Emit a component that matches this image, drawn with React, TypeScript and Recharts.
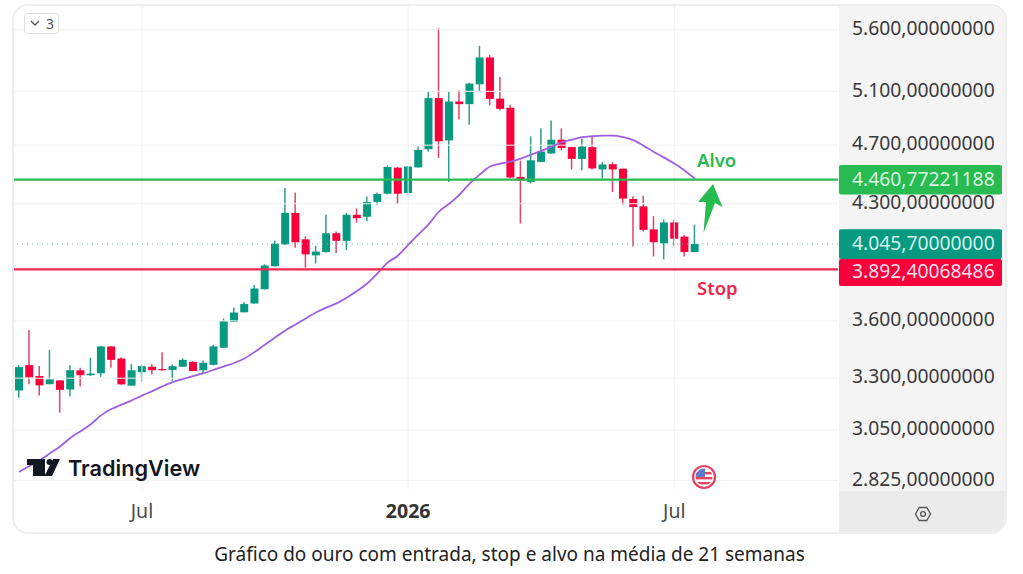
import React from 'react';
import { ComposedChart, Bar, Line, XAxis, YAxis, ReferenceLine, Cell } from 'recharts';

const weeks = [
  '2025-04-14', '2025-04-21', '2025-04-28', '2025-05-05', '2025-05-12', '2025-05-19', '2025-05-26', '2025-06-02',
  '2025-06-09', '2025-06-16', '2025-06-23', '2025-06-30', '2025-07-07', '2025-07-14', '2025-07-21', '2025-07-28',
  '2025-08-04', '2025-08-11', '2025-08-18', '2025-08-25', '2025-09-01', '2025-09-08', '2025-09-15', '2025-09-22',
  '2025-09-29', '2025-10-06', '2025-10-13', '2025-10-20', '2025-10-27', '2025-11-03', '2025-11-10', '2025-11-17',
  '2025-11-24', '2025-12-01', '2025-12-08', '2025-12-15', '2025-12-22', '2025-12-29', '2026-01-05', '2026-01-12',
  '2026-01-19', '2026-01-26', '2026-02-02', '2026-02-09', '2026-02-16', '2026-02-23', '2026-03-02', '2026-03-09',
  '2026-03-16', '2026-03-23', '2026-03-30', '2026-04-06', '2026-04-13', '2026-04-20', '2026-04-27', '2026-05-04',
  '2026-05-11', '2026-05-18', '2026-05-25', '2026-06-01', '2026-06-08', '2026-06-15', '2026-06-22', '2026-06-29',
  '2026-07-06', '2026-07-13', '2026-07-20', '2026-07-27', '2026-08-03', '2026-08-10', '2026-08-17', '2026-08-24',
  '2026-08-31', '2026-09-07', '2026-09-14', '2026-09-21', '2026-09-28', '2026-10-05', '2026-10-12', '2026-10-19',
];

const opens = [
  3239, 3366, 3311, 3270, 3289, 3244, 3340, 3315, 3325, 3463,
  3400, 3263, 3330, 3358, 3346, 3341, 3358, 3383, 3340, 3368,
  3456, 3595, 3647, 3696, 3777, 3911, 4043, 4241, 4074, 3976,
  3996, 4112, 4065, 4229, 4216, 4312, 4366, 4542, 4371, 4544,
  4671, 5048, 4734, 5022, 5002, 5155, 5369, 5044, 4975, 4479,
  4445, 4582, 4641, 4739, 4686, 4603, 4686, 4530, 4566, 4535,
  4332, 4283, 4136, 4050, 4180, 4091, 3996,
];
const highs = [
  3365, 3550, 3361, 3445, 3290, 3366, 3353, 3405, 3466, 3465,
  3406, 3371, 3368, 3371, 3433, 3370, 3401, 3385, 3390, 3472,
  3613, 3673, 3704, 3801, 3923, 4066, 4405, 4374, 4093, 4034,
  4229, 4123, 4241, 4270, 4347, 4375, 4557, 4547, 4554, 4690,
  5100, 5612, 5100, 5108, 5166, 5463, 5390, 5213, 4997, 4591,
  4764, 4822, 4879, 4822, 4688, 4747, 4760, 4580, 4580, 4537,
  4350, 4352, 4220, 4199, 4199, 4101, 4166,
];
const lows = [
  3204, 3270, 3215, 3269, 3132, 3210, 3259, 3311, 3307, 3353,
  3267, 3263, 3282, 3318, 3338, 3287, 3357, 3336, 3320, 3365,
  3454, 3595, 3647, 3696, 3775, 3910, 4039, 4023, 3902, 3927,
  3993, 3991, 4009, 4178, 4188, 4293, 4362, 4298, 4368, 4544,
  4654, 4610, 4445, 4886, 4847, 5100, 4992, 4953, 4470, 4173,
  4434, 4580, 4639, 4664, 4530, 4525, 4530, 4468, 4377, 4293,
  4030, 4123, 3970, 3952, 4030, 3970, 3996,
];
const closes = [
  3356, 3304, 3264, 3294, 3242, 3340, 3315, 3323, 3463, 3393,
  3269, 3340, 3361, 3340, 3340, 3361, 3393, 3336, 3378, 3463,
  3598, 3646, 3693, 3781, 3916, 4047, 4241, 4056, 3982, 3999,
  4112, 4065, 4229, 4207, 4311, 4364, 4547, 4366, 4550, 4666,
  5048, 4727, 5022, 5002, 5160, 5369, 5042, 4966, 4475, 4454,
  4593, 4654, 4739, 4680, 4603, 4690, 4537, 4564, 4530, 4334,
  4279, 4133, 4056, 4180, 4078, 3996, 4045.7,
];
const media21 = [
  2862, 2888, 2913, 2944, 2975, 3014, 3045, 3077, 3119, 3149,
  3170, 3191, 3214, 3236, 3259, 3280, 3296, 3310, 3325, 3342,
  3360, 3377, 3400, 3434, 3472, 3510, 3548, 3580, 3613, 3646,
  3673, 3697, 3729, 3767, 3810, 3869, 3933, 3974, 4040, 4105,
  4168, 4249, 4300, 4359, 4434, 4495, 4550, 4571, 4584, 4605,
  4632, 4659, 4688, 4721, 4739, 4757, 4764, 4768, 4768, 4757,
  4736, 4695, 4652, 4612, 4571, 4523, 4468,
];

const ALVO = 4460.77221188;
const ULTIMO = 4045.7;
const STOP = 3892.40068486;

const gridTicks = [2825, 3050, 3300, 3600, 4300, 4700, 5100, 5600];
const yTicks = [2825, 3050, 3300, 3600, STOP, ULTIMO, 4300, ALVO, 4700, 5100, 5600];
const xTicks = ['2025-07-07', '2026-01-05', '2026-07-06'];
const xLabels: Record<string, string> = { '2025-07-07': 'Jul', '2026-01-05': '2026', '2026-07-06': 'Jul' };

const COLORS = {
  up: '#089981',
  down: '#f7003c',
  upWick: '#2b9f8a',
  downWick: '#e0446a',
  alvo: '#27bb52',
  stop: '#f0274f',
  media: '#a05fe0',
  grid: '#f1f1f1',
};

const badges: Record<number, { fill: string; color: string; top: number; height: number; text: number }> = {
  [ALVO]: { fill: COLORS.alvo, color: '#d9f6df', top: -14.7, height: 29.5, text: -0.5 },
  [ULTIMO]: { fill: COLORS.up, color: '#d2f0ea', top: -14.7, height: 29.7, text: -0.7 },
  [STOP]: { fill: COLORS.down, color: '#ffdfe6', top: -10.5, height: 27, text: 1.2 },
};

const rows = weeks.map((week, i) => ({
  week,
  wick: i < highs.length ? [lows[i], highs[i]] : null,
  body: i < opens.length ? [Math.min(opens[i], closes[i]), Math.max(opens[i], closes[i])] : null,
  media: i < media21.length ? media21[i] : null,
  up: closes[i] >= opens[i],
}));

const formatPrice = (v: number) =>
  v.toLocaleString('pt-BR', { minimumFractionDigits: 8, maximumFractionDigits: 8 });

const FONT = '"Noto Sans", sans-serif';

const PriceTick = ({ x, y, payload }: any) => {
  const badge = badges[payload.value];
  const left = x + 6;
  if (badge) {
    return (
      <g>
        <rect x={x - 7} y={y + badge.top} width={163} height={badge.height} rx={2} fill={badge.fill} />
        <text x={left} y={y + badge.text} dy={7} fontSize={19.3} fontFamily={FONT} fill={badge.color}>
          {formatPrice(payload.value)}
        </text>
      </g>
    );
  }
  return (
    <text x={left} y={y - 1.7} dy={7} fontSize={19.3} fontFamily={FONT} fill="#3a3a3a">
      {formatPrice(payload.value)}
    </text>
  );
};

const TimeTick = ({ x, y, payload }: any) => {
  const label = xLabels[payload.value];
  return (
    <text x={x} y={y + 20} textAnchor="middle" fontSize={19.5} fontFamily={FONT}
      fontWeight={label === '2026' ? 700 : 400} fill={label === '2026' ? '#333' : '#4a4a4a'}>
      {label}
    </text>
  );
};

export default function App() {
  return (
    <div style={{ position: 'absolute', left: 0, top: 0, width: 1023, height: 574, background: '#fff', fontFamily: FONT, overflow: 'hidden' }}>
      {/* card and the grey price / settings panels */}
      <div style={{ position: 'absolute', left: 12, top: 4, width: 991, height: 526, border: '2px solid #eeeeee', borderRadius: 16, overflow: 'hidden', boxSizing: 'content-box' }}>
        <div style={{ position: 'absolute', left: 825, top: 0, right: 0, bottom: 0, background: '#f4f4f4' }} />
        <div style={{ position: 'absolute', left: 825, top: 485, right: 0, bottom: 0, background: '#ebebeb' }} />
      </div>

      <div style={{ position: 'absolute', left: 0, top: 0 }}>
        <ComposedChart width={1023} height={574} data={rows} barGap={0} margin={{ top: 5, right: 16, bottom: 0, left: 14 }}>
          <XAxis dataKey="week" height={84} ticks={xTicks} interval={0} axisLine={false} tickLine={false}
            padding={{ left: 0, right: 5 }} tick={<TimeTick />} />
          <XAxis xAxisId="body" dataKey="week" hide padding={{ left: 0, right: 5 }} />
          <YAxis orientation="right" width={169} scale="log" domain={[2785, 5814]} allowDataOverflow ticks={yTicks}
            interval={0} axisLine={false} tickLine={false} tick={<PriceTick />} />

          {gridTicks.map((v) => (
            <ReferenceLine key={v} y={v} stroke={COLORS.grid} strokeWidth={1} />
          ))}
          {xTicks.map((w) => (
            <ReferenceLine key={w} x={w} stroke={COLORS.grid} strokeWidth={1} />
          ))}
          <ReferenceLine y={ULTIMO} stroke="#7fb5aa" strokeWidth={1} strokeDasharray="1 4" />

          <Line dataKey="media" type="monotone" stroke={COLORS.media} strokeWidth={1.8} dot={false} isAnimationActive={false} />
          <ReferenceLine y={ALVO} stroke={COLORS.alvo} strokeWidth={2.4} />
          <ReferenceLine y={STOP} stroke={COLORS.stop} strokeWidth={2.4} />

          <Bar dataKey="wick" barSize={1.5} isAnimationActive={false}>
            {rows.map((r) => (
              <Cell key={r.week} fill={r.up ? COLORS.upWick : COLORS.downWick} />
            ))}
          </Bar>
          <Bar dataKey="body" xAxisId="body" barSize={8} isAnimationActive={false}>
            {rows.map((r) => (
              <Cell key={r.week} fill={r.up ? COLORS.up : COLORS.down} />
            ))}
          </Bar>
        </ComposedChart>
      </div>

      {/* annotations drawn over the chart */}
      <svg width={1023} height={574} style={{ position: 'absolute', left: 0, top: 0, pointerEvents: 'none' }}>
        <rect x={24.5} y={13.5} width={34} height={20} rx={3} fill="#fff" stroke="#dedede" />
        <polyline points="31,21 35,25 39,21" fill="none" stroke="#555" strokeWidth={1.4} />
        <text x={46} y={29} fontSize={14} fill="#555" fontFamily={FONT}>3</text>

        <text x={697} y={167} fontSize={18.5} fontWeight={600} fill={COLORS.alvo} fontFamily={FONT}>Alvo</text>
        <text x={697} y={295} fontSize={18.5} fontWeight={600} fill={COLORS.stop} fontFamily={FONT}>Stop</text>
        <polygon points="713,184 722.5,207 715,203 703.5,233 706,202 698,202" fill={COLORS.alvo} />

        {/* TradingView mark */}
        <path d="M27 459 H45 V476 H33 V465 H27 Z" fill="#131722" />
        <circle cx={49.5} cy={462} r={3} fill="#131722" />
        <path d="M53 459 H60 L52 476 H44.5 Z" fill="#131722" />
        <text x={68} y={476} fontSize={21.7} fontWeight={600} fill="#131722" fontFamily="Inter, sans-serif">TradingView</text>

        {/* flag badge */}
        <circle cx={704} cy={477} r={11} fill="#fff" stroke="#e8405f" strokeWidth={2.2} />
        <clipPath id="flag"><circle cx={704} cy={477} r={8.5} /></clipPath>
        <g clipPath="url(#flag)">
          <rect x={695} y={468} width={18} height={18} fill="#fff" />
          <rect x={695} y={472} width={18} height={2.4} fill="#e8405f" />
          <rect x={695} y={477} width={18} height={2.4} fill="#e8405f" />
          <rect x={695} y={482} width={18} height={2.4} fill="#e8405f" />
          <rect x={695} y={468} width={10} height={9} fill="#5f78c8" />
        </g>

        {/* settings */}
        <polygon points="915.5,514 919.2,507.5 926.8,507.5 930.5,514 926.8,520.5 919.2,520.5" fill="none" stroke="#555" strokeWidth={1.3} />
        <circle cx={923} cy={514} r={2.4} fill="none" stroke="#555" strokeWidth={1.3} />
      </svg>

      <div style={{ position: 'absolute', left: 0, width: 1019, top: 542, textAlign: 'center', fontSize: 19, color: '#222', fontFamily: FONT, lineHeight: '24px' }}>
        Gráfico do ouro com entrada, stop e alvo na média de 21 semanas
      </div>
    </div>
  );
}
